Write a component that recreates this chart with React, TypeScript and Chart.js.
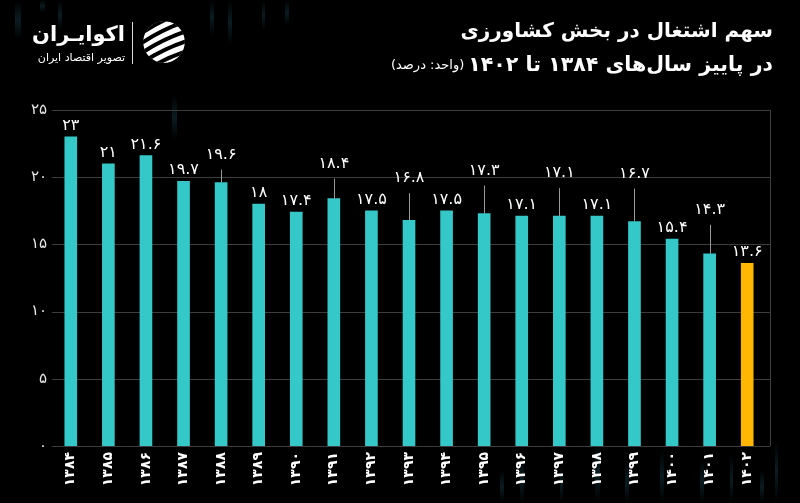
import React, { useEffect, useRef } from 'react';
import { Chart, registerables } from 'chart.js';

Chart.register(...registerables);

// ---- data ----
const years = [1384, 1385, 1386, 1387, 1388, 1389, 1390, 1391, 1392, 1393, 1394, 1395, 1396, 1397, 1398, 1399, 1400, 1401, 1402];
const shares = [23, 21, 21.6, 19.7, 19.6, 18, 17.4, 18.4, 17.5, 16.8, 17.5, 17.3, 17.1, 17.1, 17.1, 16.7, 15.4, 14.3, 13.6];
const yTicks = [0, 5, 10, 15, 20, 25];
const titleLine1 = 'سهم اشتغال در بخش کشاورزی';
const titleLine2 = 'در پاییز سال‌های ۱۳۸۴ تا ۱۴۰۲';
const unitText = '(واحد: درصد)';
const brandName = 'اکوایـران';
const brandTagline = 'تصویر اقتصاد ایران';

const fa = (v: number | string) => String(v).replace(/[0-9]/g, (d) => '۰۱۲۳۴۵۶۷۸۹'[+d]);

const TEAL = '#35C8C8';
const GOLD = '#FFB703';
const FONT = '"DejaVu Sans", sans-serif';

// label lift above bar top (px) — style only
const LIFT = [11, 11, 11, 11, 28, 11, 11, 35, 11, 42, 11, 43, 11, 43, 11, 48, 11, 44, 11];

const decorPlugin = {
  id: 'decor',
  beforeDraw(chart: any) {
    const { ctx, width, height } = chart;
    ctx.save();
    ctx.fillStyle = '#000';
    ctx.fillRect(0, 0, width, height);
    // faint streaks
    const streaks = [
      [15, 0, 6, 40], [40, 0, 5, 12], [58, 0, 4, 30], [172, 95, 5, 45], [210, 0, 4, 35], [228, 0, 4, 45],
      [262, 0, 3, 30], [285, 0, 4, 25], [500, 470, 4, 33], [520, 455, 4, 48], [560, 465, 3, 38],
      [595, 440, 5, 63], [625, 460, 4, 43], [660, 450, 4, 53], [700, 460, 4, 43], [730, 455, 3, 48], [760, 470, 4, 33], [775, 440, 3, 63],
    ];
    for (const [x, y, w, h] of streaks) {
      const g = ctx.createLinearGradient(0, y, 0, y + h);
      g.addColorStop(0, 'rgba(30,80,95,0.0)');
      g.addColorStop(0.5, 'rgba(30,80,95,0.35)');
      g.addColorStop(1, 'rgba(30,80,95,0.0)');
      ctx.fillStyle = g;
      ctx.fillRect(x, y, w, h);
    }
    // titles
    ctx.fillStyle = '#fff';
    ctx.direction = 'rtl';
    ctx.textAlign = 'right';
    ctx.textBaseline = 'middle';
    ctx.font = `bold 20px ${FONT}`;
    ctx.fillText(titleLine1, 773, 32);
    ctx.font = `bold 20px ${FONT}`;
    const w2 = ctx.measureText(titleLine2).width;
    const s2 = Math.min(22, 20 * 305 / w2);
    ctx.font = `bold ${s2}px ${FONT}`;
    ctx.fillText(titleLine2, 773, 66);
    const w2b = ctx.measureText(titleLine2).width;
    ctx.font = `13px ${FONT}`;
    ctx.fillText(unitText, 773 - w2b - 4, 66);
    // brand
    ctx.font = `bold 24px ${FONT}`;
    const bw = ctx.measureText(brandName).width;
    const bs = 24 * 93 / bw;
    ctx.font = `bold ${bs}px ${FONT}`;
    ctx.fillText(brandName, 125, 36);
    ctx.font = `11px ${FONT}`;
    ctx.fillText(brandTagline, 125, 58);
    ctx.direction = 'ltr';
    ctx.strokeStyle = '#ddd';
    ctx.lineWidth = 1;
    ctx.beginPath();
    ctx.moveTo(132.5, 22);
    ctx.lineTo(132.5, 64);
    ctx.stroke();
    // icon
    ctx.save();
    ctx.beginPath();
    ctx.arc(164, 42, 21, 0, Math.PI * 2);
    ctx.clip();
    ctx.fillStyle = '#fff';
    ctx.beginPath();
    ctx.arc(164, 42, 21, 0, Math.PI * 2);
    ctx.fill();
    ctx.strokeStyle = '#000';
    ctx.lineWidth = 4;
    for (let k = -2; k <= 2; k++) {
      ctx.beginPath();
      ctx.moveTo(140, 54 + k * 10);
      ctx.quadraticCurveTo(164, 38 + k * 10, 190, 30 + k * 10);
      ctx.stroke();
    }
    ctx.restore();
    ctx.restore();
  },
  beforeDatasetsDraw(chart: any) {
    const { ctx, chartArea } = chart;
    const y = chart.scales.y;
    ctx.save();
    ctx.strokeStyle = '#3d3d3d';
    ctx.lineWidth = 1;
    for (const t of yTicks) {
      const py = Math.round(y.getPixelForValue(t)) + 0.5;
      ctx.beginPath();
      ctx.moveTo(chartArea.left, py);
      ctx.lineTo(chartArea.right + 4, py);
      ctx.stroke();
    }
    ctx.beginPath();
    ctx.moveTo(chartArea.right + 4.5, y.getPixelForValue(25));
    ctx.lineTo(chartArea.right + 4.5, y.getPixelForValue(0));
    ctx.stroke();
    ctx.restore();
  },
  afterDatasetsDraw(chart: any) {
    const { ctx } = chart;
    const meta = chart.getDatasetMeta(0);
    ctx.save();
    ctx.font = `16px ${FONT}`;
    ctx.textAlign = 'center';
    ctx.textBaseline = 'middle';
    meta.data.forEach((bar: any, i: number) => {
      const lift = LIFT[i];
      const ly = bar.y - lift;
      if (lift > 20) {
        ctx.strokeStyle = '#9a9a9a';
        ctx.lineWidth = 1;
        ctx.beginPath();
        ctx.moveTo(Math.round(bar.x) + 0.5, ly + 15);
        ctx.lineTo(Math.round(bar.x) + 0.5, bar.y);
        ctx.stroke();
      }
      ctx.fillStyle = '#fff';
      ctx.fillText(fa(shares[i]), bar.x, ly);
    });
    ctx.restore();
  },
};

export default function App() {
  const ref = useRef<HTMLCanvasElement>(null);
  useEffect(() => {
    if (!ref.current) return;
    const chart = new Chart(ref.current, {
      type: 'bar',
      data: {
        labels: years.map((y) => fa(y)),
        datasets: [
          {
            data: shares,
            backgroundColor: shares.map((_, i) => (i === shares.length - 1 ? GOLD : TEAL)),
            barThickness: 12,
            borderWidth: 0,
          },
        ],
      },
      options: {
        animation: false,
        responsive: true,
        maintainAspectRatio: false,
        layout: { padding: { top: 110, right: 34, left: 0, bottom: 0 } },
        plugins: { legend: { display: false }, tooltip: { enabled: false } },
        scales: {
          x: {
            grid: { display: false, drawTicks: false },
            border: { display: false },
            ticks: {
              color: '#fff',
              font: { family: FONT, size: 14, weight: 'bold' },
              minRotation: 90,
              maxRotation: 90,
              padding: 6,
              autoSkip: false,
            },
            afterFit: (axis: any) => {
              axis.height = 57;
            },
          },
          y: {
            min: 0,
            max: 25,
            afterBuildTicks: (axis: any) => {
              axis.ticks = yTicks.map((v) => ({ value: v }));
            },
            grid: { display: false, drawTicks: false },
            border: { display: false },
            ticks: {
              color: '#e8e8e8',
              font: { family: FONT, size: 15 },
              padding: 5,
              callback: (v: any) => fa(v),
            },
            afterFit: (axis: any) => {
              axis.width = 52;
            },
          },
        },
      },
      plugins: [decorPlugin],
    });
    return () => chart.destroy();
  }, []);
  return (
    <div style={{ position: 'absolute', left: 0, top: 0, width: 800, height: 503, background: '#000' }}>
      <canvas ref={ref} />
    </div>
  );
}
